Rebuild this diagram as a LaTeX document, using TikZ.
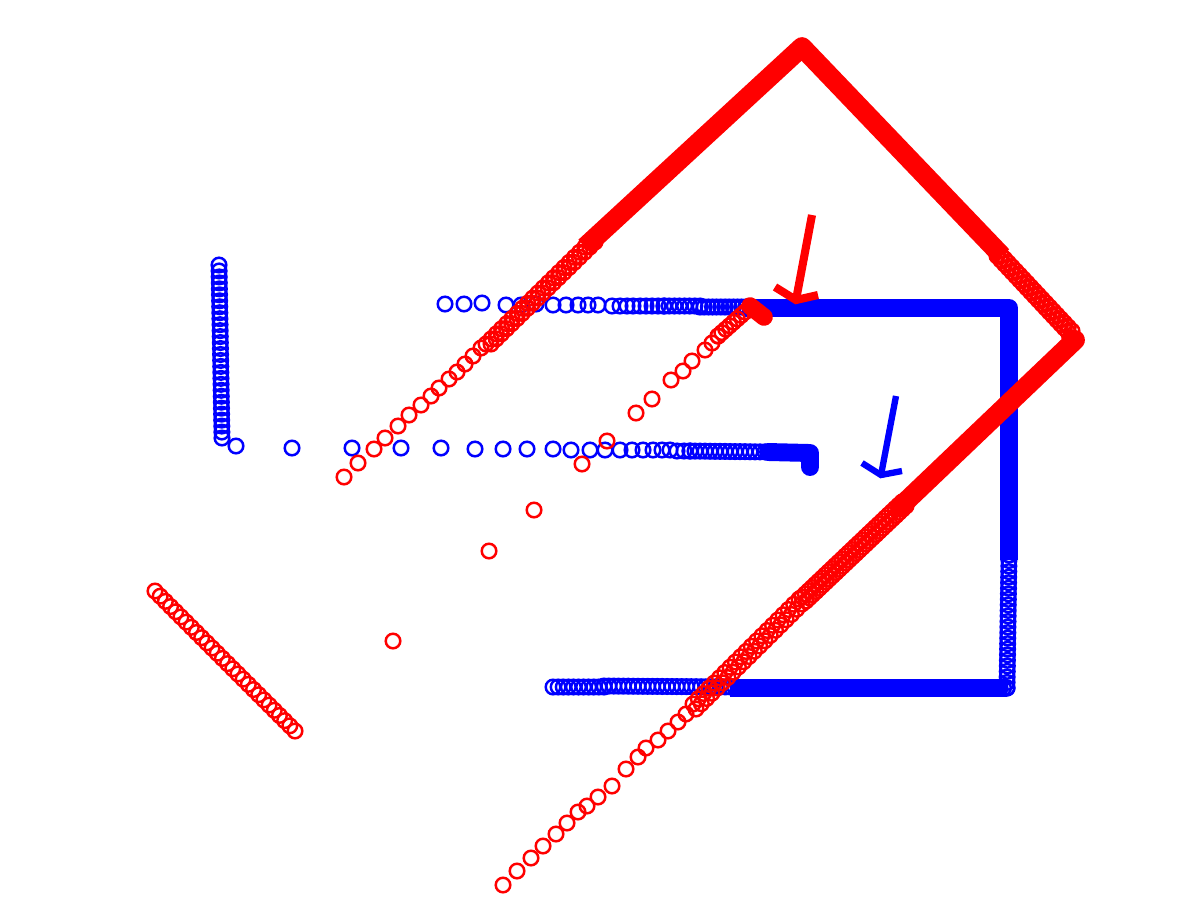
\documentclass[tikz,border=0pt]{standalone}

% one unit is one pixel of a 1200x900 picture
\newcommand{\ringrun}[6]{%
    \foreach \k in {0,...,#6}
        \draw[#1] ({#2+(#4-#2)*\k/#6}, {#3+(#5-#3)*\k/#6}) circle[radius=7.3];
}
\newcommand{\ringlist}[2]{%
    \foreach \px/\py in {#2}
        \draw[#1] (\px, \py) circle[radius=7.3];
}

\begin{document}
\begin{tikzpicture}[
    x=0.01cm, y=-0.01cm,
    bluering/.style={draw=blue, line width=0.7pt},
    redring/.style={draw=red, line width=0.7pt},
    blueband/.style={draw=blue, line width=5.1pt, line join=round},
    redband/.style={draw=red, line width=5.6pt, line join=round},
    redmark/.style={draw=red, line width=2.3pt, line join=miter},
    bluemark/.style={draw=blue, line width=1.8pt, line join=miter},
]
    \useasboundingbox (0, 0) rectangle (1200, 900);

    % left wall
    \ringrun{bluering}{219}{265}{222}{438}{29}
    \ringlist{bluering}{236/446, 292/448, 352/448, 401/448, 441/448, 475/449,
        503/449, 527/449, 553/449, 571/450, 590/450, 605/450, 620/450, 632/450,
        643/450, 653/450, 662/450, 670/450, 677/451, 684/451, 690/451}
    % inner wall
    \ringrun{bluering}{690}{451}{770}{452}{16}
    \draw[blueband, line cap=round] (768, 452) -- (810, 453) -- (810, 467);

    % top wall
    \ringlist{bluering}{445/304, 464/304, 482/303, 506/305, 521/305, 536/304,
        553/305, 566/305, 578/305, 588/305, 598/305, 612/306, 620/306, 627/306,
        633/306, 640/306, 646/306, 652/306, 658/306, 664/306}
    \ringrun{bluering}{664}{306}{700}{306}{7}
    \ringrun{bluering}{700}{307}{750}{307}{12}
    \draw[blueband] (745, 308) -- (1009, 308) -- (1009, 560);
    % right wall, bottom wall
    \ringrun{bluering}{1009}{555}{1007}{688}{24}
    \ringrun{bluering}{553}{687}{604}{687}{10}
    \ringrun{bluering}{604}{686}{735}{687}{27}
    \draw[blueband] (730, 688) -- (1007, 688);
    \ringrun{bluering}{1000}{688}{1007}{688}{2}

    % red rows
    \ringrun{redring}{155}{591}{295}{731}{27}
    \ringlist{redring}{344/477, 358/463, 374/449, 385/438, 398/426, 409/415,
        421/405, 431/396, 439/388, 449/379, 457/372, 465/364, 473/356, 481/348}
    \ringrun{redring}{486}{344}{590}{242}{20}
    \ringrun{redring}{491}{344}{595}{242}{20}
    \draw[redband] (585, 247) -- (802, 47) -- (1002, 256);
    \ringrun{redring}{1001}{255}{1072}{331}{19}
    \ringrun{redring}{997}{256}{1068}{332}{19}
    \draw[redband, line cap=round] (1071, 339) -- (1075, 340) -- (900, 507);
    \ringrun{redring}{906}{506}{806}{601}{30}
    \ringrun{redring}{902}{502}{802}{597}{30}
    \ringrun{redring}{802}{604}{696}{709}{20}
    \ringrun{redring}{799}{599}{693}{704}{20}
    \ringlist{redring}{503/885, 517/871, 531/858, 543/846, 556/834, 567/823,
        578/812, 587/806, 598/797, 612/786, 626/769, 638/757, 646/748, 658/740,
        668/731, 678/722, 686/714}
    \ringlist{redring}{393/641, 489/551, 534/510, 582/464, 607/441, 636/413,
        652/399, 671/380, 683/371, 692/361, 705/350, 712/343, 718/336}
    \ringrun{redring}{718}{336}{745}{312}{7}
    \draw[redband, line width=5pt, line cap=round] (750, 306) -- (764, 317);

    % the two marks
    \coordinate (redtail) at (812, 215);
    \coordinate (redtip) at (796, 300);
    \coordinate (bluetail) at (896, 396);
    \coordinate (bluetip) at (881, 475);
    \draw[redmark] (redtail) -- (redtip);
    \draw[redmark] (775, 287) -- (redtip) -- (818, 295);
    \draw[bluemark] (bluetail) -- (bluetip);
    \draw[bluemark] (862, 463) -- (bluetip) -- (902, 471);
\end{tikzpicture}
\end{document}
